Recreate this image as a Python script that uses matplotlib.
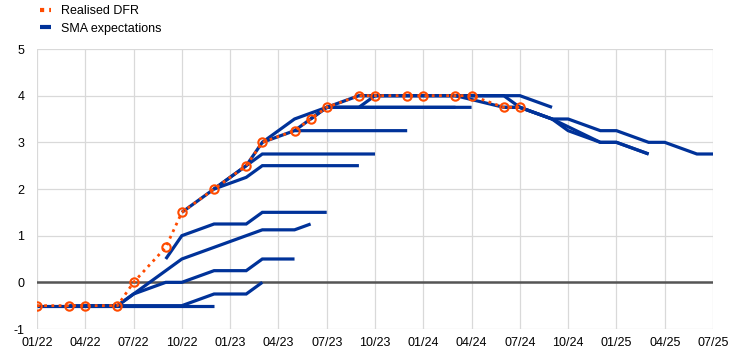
import matplotlib
matplotlib.use("Agg")
import matplotlib.pyplot as plt
from matplotlib.lines import Line2D

plt.rcParams['font.family'] = ['Liberation Sans', 'DejaVu Sans']

# ---------------- data ----------------
x_tick_labels = ["01/22", "04/22", "07/22", "10/22", "01/23", "04/23", "07/23",
                 "10/23", "01/24", "04/24", "07/24", "10/24", "01/25", "04/25", "07/25"]
y_ticks = [-1, 0, 1, 2, 3, 4, 5]

dfr_dates = ["01/22", "03/22", "04/22", "06/22", "07/22", "09/22", "10/22", "12/22",
             "02/23", "03/23", "05/23", "06/23", "07/23", "09/23", "10/23", "12/23",
             "01/24", "03/24", "04/24", "06/24", "07/24"]
dfr_values = [-0.5, -0.5, -0.5, -0.5, 0.0, 0.75, 1.5, 2.0,
              2.5, 3.0, 3.25, 3.5, 3.75, 4.0, 4.0, 4.0,
              4.0, 4.0, 4.0, 3.75, 3.75]

# SMA expectation paths (dates, values)
sma_jan22 = (["01/22", "12/22"], [-0.5, -0.5])
sma_mar22 = (["03/22", "10/22", "12/22", "02/23", "03/23"], [-0.5, -0.5, -0.25, -0.25, 0.0])
sma_apr22 = (["04/22", "06/22", "07/22", "09/22", "10/22", "12/22", "02/23", "03/23", "05/23"],
             [-0.5, -0.5, -0.25, 0.0, 0.0, 0.25, 0.25, 0.5, 0.5])
sma_jun22 = (["06/22", "07/22", "10/22", "12/22", "02/23", "03/23", "05/23", "06/23"],
             [-0.5, -0.25, 0.5, 0.75, 1.0, 1.125, 1.125, 1.25])
sma_jul22 = (["09/22", "10/22", "12/22", "02/23", "03/23", "07/23"],
             [0.5, 1.0, 1.25, 1.25, 1.5, 1.5])
sma_sep22 = (["10/22", "12/22", "02/23", "03/23", "09/23"], [1.5, 2.0, 2.25, 2.5, 2.5])
sma_oct22 = (["12/22", "02/23", "03/23", "10/23"], [2.0, 2.5, 2.75, 2.75])
sma_dec22 = (["12/22", "02/23", "03/23", "05/23", "12/23"], [2.0, 2.5, 3.0, 3.25, 3.25])
sma_mar23 = (["03/23", "05/23", "07/23", "03/24"], [3.0, 3.5, 3.75, 3.75])
sma_may23 = (["05/23", "06/23", "07/23", "04/24"], [3.25, 3.5, 3.75, 3.75])
sma_jun23 = (["06/23", "07/23", "09/23", "10/23", "06/24"], [3.5, 3.75, 3.75, 4.0, 4.0])
sma_jul23 = (["07/23", "09/23", "06/24", "07/24"], [3.75, 4.0, 4.0, 3.75])
sma_sep23 = (["09/23", "07/24", "09/24"], [4.0, 4.0, 3.75])
sma_mar24 = (["03/24", "06/24", "07/24", "09/24", "10/24", "12/24", "01/25", "03/25"],
             [4.0, 3.75, 3.75, 3.5, 3.25, 3.0, 3.0, 2.75])
sma_jun24 = (["06/24", "07/24", "09/24", "12/24", "01/25", "03/25"],
             [3.75, 3.75, 3.5, 3.0, 3.0, 2.75])
sma_jul24 = (["07/24", "09/24", "10/24", "12/24", "01/25", "03/25", "04/25", "06/25", "07/25"],
             [3.75, 3.5, 3.5, 3.25, 3.25, 3.0, 3.0, 2.75, 2.75])

sma_paths = [sma_jan22, sma_mar22, sma_apr22, sma_jun22, sma_jul22, sma_sep22,
             sma_oct22, sma_dec22, sma_mar23, sma_may23, sma_jun23, sma_jul23,
             sma_sep23, sma_mar24, sma_jun24, sma_jul24]


def month_index(s):
    mm, yy = s.split("/")
    return (int(yy) - 22) * 12 + int(mm) - 1


BLUE = "#003299"
ORANGE = "#FF4B00"

# ---------------- figure ----------------
fig = plt.figure(figsize=(7.42, 3.55), dpi=100)
ax = fig.add_axes([37 / 742, 26 / 355, (713 - 37) / 742, (329 - 49) / 355])

for dates, vals in sma_paths:
    ax.plot([month_index(d) for d in dates], vals, color=BLUE, lw=2.3,
            solid_capstyle="butt", solid_joinstyle="miter", zorder=3)

ax.plot([month_index(d) for d in dfr_dates], dfr_values, color=ORANGE, lw=2.0,
        linestyle=(0, (1, 1.6)), marker="o", markersize=6, markerfacecolor="none",
        markeredgecolor=ORANGE, markeredgewidth=1.5, zorder=4)

ax.axhline(0, color="#555555", lw=1.8, zorder=2)

xt = [month_index(s) for s in x_tick_labels]
ax.set_xticks(xt)
ax.set_xticklabels(x_tick_labels)
ax.set_yticks(y_ticks)
ax.set_yticklabels([str(v) for v in y_ticks])
ax.set_xlim(xt[0], xt[-1])
ax.set_ylim(-1, 5)
ax.grid(True, color="#d9d9d9", lw=0.9, zorder=0)
ax.set_axisbelow(True)
for sp in ax.spines.values():
    sp.set_visible(False)
ax.tick_params(axis="both", length=0, labelsize=9, colors="black")
ax.tick_params(axis="y", pad=9)
ax.tick_params(axis="x", pad=6)

handles = [
    Line2D([], [], color=ORANGE, lw=3, linestyle=(0, (1, 1.2))),
    Line2D([], [], color=BLUE, lw=3, solid_capstyle="butt"),
]
fig.legend(handles, ["Realised DFR", "SMA expectations"], loc="upper left",
           bbox_to_anchor=(40 / 742, 1 - 5 / 355), frameon=False, fontsize=9,
           handlelength=0.9, handletextpad=0.8, labelspacing=0.45,
           borderpad=0, borderaxespad=0)

fig.savefig("out.png", dpi=100)
